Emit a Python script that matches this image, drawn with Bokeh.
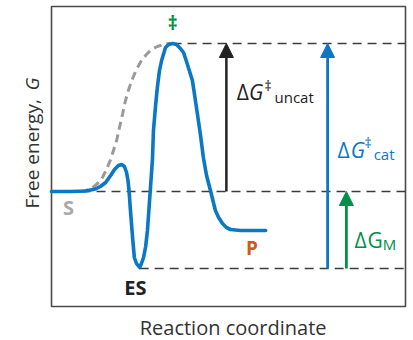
from bokeh.plotting import figure
from bokeh.models import Range1d, Label, Arrow, NormalHead
from bokeh.embed import file_html
from bokeh.resources import INLINE

# ---- data (reaction coordinate 0..100, free energy G in arbitrary units) ----
cat_x = [0, 5.4, 9.6, 12.4, 13.8, 15.3, 16.7, 17.8, 18.9, 19.8, 20.6, 21.2, 21.6, 21.9,
         22.3, 22.9, 23.4, 24.0, 24.9, 25.4, 26.0, 26.6, 27.1, 27.4, 27.7, 28.1, 28.5,
         28.8, 29.4, 29.9, 30.5, 31.1, 32.2, 33.1, 34.2, 35.3, 36.4, 37.3, 38.4, 39.8,
         41.2, 42.1, 42.9, 43.8, 44.9, 46.3, 47.2, 48.3, 49.4, 50.6, 53.4, 60.5]
cat_g = [0, 0, 0.05, 0.25, 0.5, 0.9, 1.6, 2.2, 2.6, 2.7, 2.5, 1.9, 1.1, 0.1,
         -1.9, -4.6, -6.6, -7.2, -7.6, -7.2, -6.6, -5.5, -3.9, -2.4, -0.9, 1.1, 3.1,
         6.1, 8.6, 10.4, 12.1, 13.1, 14.4, 14.7, 14.8, 14.7, 14.3, 13.9, 12.7, 11.1,
         7.8, 5.6, 3.4, 1.6, 0.1, -1.9, -2.6, -3.2, -3.6, -3.8, -3.9, -3.9]

uncat_x = [8.2, 11.0, 13.0, 14.4, 15.5, 16.7, 17.5, 18.4, 19.2, 20.1, 20.9, 21.8, 22.9,
           24.0, 25.4, 26.8, 28.2, 29.9, 31.6, 33.1, 34.2]
uncat_g = [0, 0.2, 0.8, 1.4, 2.2, 3.2, 4.1, 5.1, 6.4, 7.8, 9.1, 10.2, 11.3,
           12.2, 13.1, 13.7, 14.2, 14.5, 14.7, 14.8, 14.8]

G_S = 0.0        # substrate level
G_ES = -7.7      # enzyme-substrate complex level
G_TS = 14.8      # transition state level
X_TS = 34.2      # transition state position
X_ES = 24.9      # ES minimum position

# plotting box (reaction coordinate / energy extent of the framed area)
BOX_X = (0.0, 100.0)
BOX_G = (-11.5, 18.5)

arrow_x = {"uncat": 49.4, "cat": 78.0, "M": 83.3}

BLUE = "#0a78c4"
GREEN = "#009048"
ORANGE = "#d2581c"
GRAY = "#9a9a9a"
INK = "#222222"
FONT = "Open Sans"

W, H = 413, 340
# canvas extent expressed in data units so that texts outside the box are not clipped
X_LO, X_HI = -14.41, 102.26
G_LO, G_HI = -14.9, 19.1

p = figure(width=W, height=H, output_backend="svg", toolbar_location=None,
           x_range=Range1d(X_LO, X_HI), y_range=Range1d(G_LO, G_HI),
           min_border=0)
p.axis.visible = False
p.grid.visible = False
p.outline_line_color = None
p.background_fill_color = "white"
p.border_fill_color = "white"

# framed box
p.quad(left=BOX_X[0], right=BOX_X[1], bottom=BOX_G[0], top=BOX_G[1],
       fill_color=None, line_color="#4a4a4a", line_width=1.6)

# reference dashed levels
dash_kw = dict(line_color="#3c3c3c", line_width=1.3, line_dash="9 6")
p.line([X_TS, BOX_X[1]], [G_TS, G_TS], **dash_kw)
p.line([BOX_X[0], BOX_X[1]], [G_S, G_S], **dash_kw)
p.line([X_ES, BOX_X[1]], [G_ES, G_ES], **dash_kw)

# uncatalysed path
p.line(uncat_x, uncat_g, line_color=GRAY, line_width=3, line_dash="8 5")
# catalysed path
p.line(cat_x, cat_g, line_color=BLUE, line_width=3.6, line_join="round", line_cap="round")

# arrows
p.add_layout(Arrow(end=NormalHead(size=14, fill_color=INK, line_color=INK),
                   x_start=arrow_x["uncat"], y_start=G_S, x_end=arrow_x["uncat"], y_end=G_TS,
                   line_color=INK, line_width=2.5))
p.add_layout(Arrow(end=NormalHead(size=14, fill_color=BLUE, line_color=BLUE),
                   x_start=arrow_x["cat"], y_start=G_ES, x_end=arrow_x["cat"], y_end=G_TS,
                   line_color=BLUE, line_width=2.8))
p.add_layout(Arrow(end=NormalHead(size=14, fill_color=GREEN, line_color=GREEN),
                   x_start=arrow_x["M"], y_start=G_ES, x_end=arrow_x["M"], y_end=G_S,
                   line_color=GREEN, line_width=2.8))


def lab(x, y, text, size, color=INK, style="normal", align="left",
        baseline="alphabetic", angle=0.0):
    p.add_layout(Label(x=x, y=y, text=text, text_font=FONT, text_font_size=f"{size}px",
                       text_color=color, text_font_style=style, text_align=align,
                       text_baseline=baseline, angle=angle))


# axis titles
lab(51.3, -13.6, "Reaction coordinate", 20, color="#333333", align="center")
lab(-5.4, -1.7, "Free energy, ", 19, color="#333333", baseline="middle", angle=1.5708)
lab(-5.4, 10.1, "G", 19, color="#333333", style="italic", baseline="middle", angle=1.5708)

# state labels
lab(X_TS, 16.9, "‡", 19, color=GREEN, style="bold", align="center", baseline="middle")
lab(4.8, -1.6, "S", 20, color="#aaaaaa", style="bold", align="center")
lab(23.7, -9.6, "ES", 20, color=INK, style="bold", align="center")
lab(56.6, -5.6, "P", 19, color=ORANGE, style="bold", align="center")

# ΔG‡uncat
lab(52.3, 10.0, "Δ", 21)
lab(55.8, 10.0, "G", 21, style="italic")
lab(60.2, 10.6, "‡", 14)
lab(63.0, 9.5, "uncat", 15)

# ΔG‡cat
lab(80.8, 4.2, "Δ", 21, color=BLUE)
lab(84.5, 4.2, "G", 21, color=BLUE, style="italic")
lab(88.4, 4.9, "‡", 14, color=BLUE)
lab(91.0, 3.8, "cat", 15, color=BLUE)

# ΔGM
lab(85.6, -4.8, "Δ", 21, color=GREEN)
lab(89.3, -4.8, "G", 21, color=GREEN)
lab(93.6, -5.2, "M", 15, color=GREEN)

open("out.html", "w").write(file_html(p, INLINE))
